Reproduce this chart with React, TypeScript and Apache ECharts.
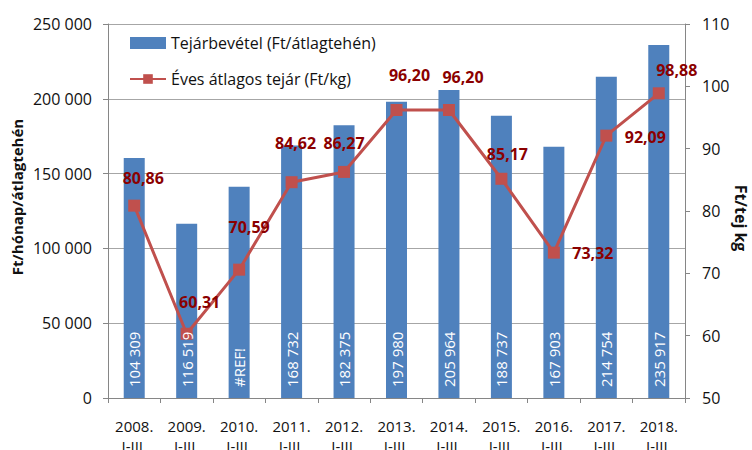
import React, { useEffect, useRef } from "react";
import * as echarts from "echarts";

const categories = ["2008.\nI-III.", "2009.\nI-III.", "2010.\nI-III.", "2011.\nI-III.", "2012.\nI-III.", "2013.\nI-III.", "2014.\nI-III.", "2015.\nI-III.", "2016.\nI-III.", "2017.\nI-III.", "2018.\nI-III."];
const barValues = [160400, 116519, 141200, 168732, 182375, 197980, 205964, 188737, 167903, 214754, 235917];
const barLabels = ["104 309", "116 519", "#REF!", "168 732", "182 375", "197 980", "205 964", "188 737", "167 903", "214 754", "235 917"];
const priceValues = [80.86, 60.31, 70.59, 84.62, 86.27, 96.2, 96.2, 85.17, 73.32, 92.09, 98.88];
const priceLabels = ["80,86", "60,31", "70,59", "84,62", "86,27", "96,20", "96,20", "85,17", "73,32", "92,09", "98,88"];
const labelOffsets = [[9, -28], [13, -32], [10, -43], [4, -39], [0, -29], [13, -35], [14, -33], [6, -25], [39, 0], [39, 1], [18, -23]];

const FONT = "Open Sans";
const BAR_NAME = "Tejárbevétel (Ft/átlagtehén)";
const LINE_NAME = "Éves átlagos tejár (Ft/kg)";

export default function App() {
  const ref = useRef<HTMLDivElement>(null);
  useEffect(() => {
    document.body.style.margin = "0";
    const chart = echarts.init(ref.current!, null, { renderer: "svg" });
    chart.setOption({
      animation: false,
      textStyle: { fontFamily: FONT },
      grid: { left: 108, right: 67, top: 24, bottom: 52, outerBoundsMode: "none", containLabel: false },
      legend: {
        orient: "vertical",
        left: 124,
        top: 30,
        itemGap: 20,
        itemWidth: 36,
        itemHeight: 12,
        textStyle: { fontFamily: FONT, fontSize: 16, color: "#111" },
        data: [
          { name: BAR_NAME, icon: "rect" },
          { name: LINE_NAME },
        ],
      },
      xAxis: {
        type: "category",
        data: categories,
        axisLine: { lineStyle: { color: "#868686", width: 1 } },
        axisTick: { show: true, length: 5, lineStyle: { color: "#868686" } },
        axisLabel: { color: "#111", fontSize: 15, lineHeight: 20, margin: 18, fontFamily: FONT },
      },
      yAxis: [
        {
          type: "value",
          min: 0,
          max: 250000,
          interval: 50000,
          axisLine: { show: true, lineStyle: { color: "#868686" } },
          axisTick: { show: true, length: 5, lineStyle: { color: "#868686" } },
          splitLine: { lineStyle: { color: "#a6a6a6" } },
          axisLabel: {
            color: "#111",
            fontSize: 16,
            margin: 16,
            fontFamily: FONT,
            formatter: (v: number) => String(v).replace(/\B(?=(\d{3})+(?!\d))/g, " "),
          },
        },
        {
          type: "value",
          min: 50,
          max: 110,
          interval: 10,
          position: "right",
          axisLine: { show: true, lineStyle: { color: "#868686" } },
          axisTick: { show: true, length: 5, lineStyle: { color: "#868686" } },
          splitLine: { show: false },
          axisLabel: { color: "#111", fontSize: 16, margin: 17, fontFamily: FONT },
        },
      ],
      graphic: [
        {
          type: "text",
          x: 17,
          y: 197,
          rotation: Math.PI / 2,
          style: {
            text: "Ft/hónap/átlagtehén",
            font: `bold 15px ${FONT}`,
            fill: "#111",
            align: "center",
            verticalAlign: "middle",
          },
        },
        {
          type: "text",
          x: 741,
          y: 218,
          rotation: -Math.PI / 2,
          style: {
            text: "Ft/tej kg",
            font: `bold 16px ${FONT}`,
            fill: "#111",
            align: "center",
            verticalAlign: "middle",
          },
        },
      ],
      series: [
        {
          name: BAR_NAME,
          type: "bar",
          barWidth: 21,
          z: 2,
          itemStyle: { color: "#4F81BD" },
          data: barValues,
        },
        {
          name: LINE_NAME,
          type: "line",
          yAxisIndex: 1,
          z: 3,
          symbol: "rect",
          symbolSize: 12,
          lineStyle: { color: "#C0504D", width: 3 },
          itemStyle: { color: "#C0504D" },
          data: priceValues.map((v, i) => ({
            value: v,
            label: {
              show: true,
              position: "inside",
              offset: labelOffsets[i],
              color: "#8B0000",
              fontWeight: "bold",
              fontSize: 16,
              fontFamily: FONT,
              formatter: () => priceLabels[i],
            },
          })),
        },
        {
          name: "labels",
          type: "bar",
          barWidth: 21,
          barGap: "-100%",
          z: 4,
          silent: true,
          itemStyle: { color: "transparent" },
          data: barValues.map((v, i) => ({
            value: v,
            label: {
              show: true,
              position: "insideBottom",
              distance: 11,
              rotate: 90,
              align: "left",
              verticalAlign: "middle",
              color: "#fff",
              fontSize: 15,
              fontWeight: 500,
              fontFamily: FONT,
              formatter: () => barLabels[i],
            },
          })),
        },
      ],
    });
    return () => chart.dispose();
  }, []);
  return <div ref={ref} style={{ width: 752, height: 450 }} />;
}
